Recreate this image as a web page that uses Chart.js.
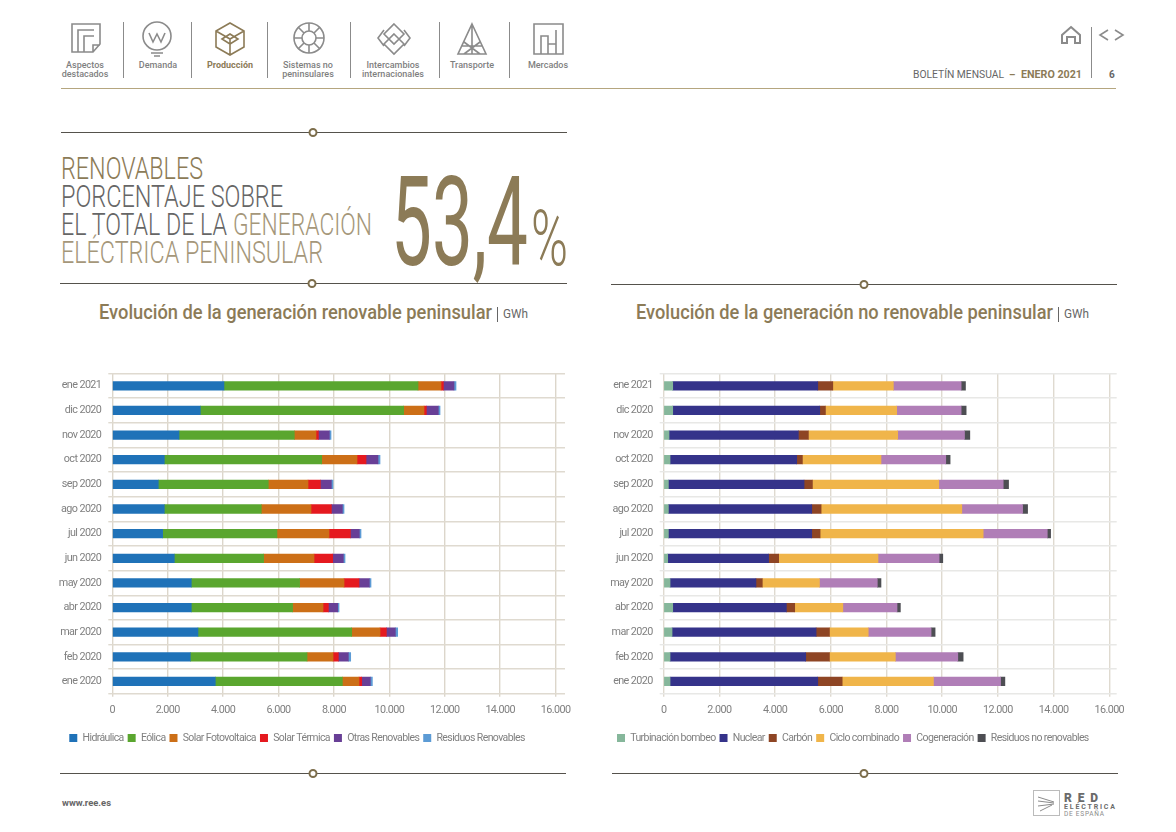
<!DOCTYPE html>
<html>
<head>
<meta charset="utf-8">
<title>Boletín mensual - enero 2021</title>
<script src="https://cdn.jsdelivr.net/npm/chart.js@4/dist/chart.umd.min.js"></script>
<style>
    html, body { margin: 0; padding: 0; background: #fff; }
    body { width: 1176px; height: 832px; position: relative; overflow: hidden; }
    #page { position: absolute; left: 0; top: 0; }
    .box { position: absolute; }
    text { font-family: 'Roboto', sans-serif; }
    .nav { font-size: 9px; font-weight: 500; fill: #7f7f7f; text-anchor: middle; }
    .ico { fill: none; stroke: #8b8b8b; stroke-width: 1.6; }
    .big { font-size: 31px; font-weight: 300; }
    .tit { font-size: 21px; font-weight: 500; fill: #8c7b57; }
    .uni { font-size: 12px; font-weight: 400; fill: #666; }
</style>
</head>
<body>

<svg id="page" width="1176" height="832" viewBox="0 0 1176 832">
    <!-- top navigation -->
    <g class="ico">
        <path d="M72 52V24H100V44L93 52ZM78 52V30H94M84 52V36H94M93 52V45H100"/>
        <circle cx="157" cy="36" r="14"/><path d="M149 33L153 42L157 34L161 42L165 33M151 53H163M154 56H160"/>
        <path d="M230 23L244 31V47L230 55L216 47V31ZM216 31L230 39L244 31M230 39V55M222 39L230 34L238 39L230 44Z" style="stroke:#8c7b57"/>
        <circle cx="309" cy="38" r="15"/><circle cx="309" cy="38" r="7"/><path d="M309 23V31M309 45V53M294 38H302M316 38H324M298 27L304 33M314 43L320 49M320 27L314 33M304 43L298 49"/>
        <path d="M394 24L404 34L394 44L384 34ZM394 34L404 44L394 54L384 44ZM384 30L378 38L384 46M404 30L410 38L404 46"/>
        <path d="M472 24L486 54H458ZM472 24V54M464 42L480 54M480 42L464 54M462 46H482"/>
        <path d="M534 24H563V54H534ZM541 54V36H548V54M548 44H556M556 54V30"/>
        <path d="M1071 27L1080 35V43H1075V37H1067V43H1062V35Z" style="stroke-width:2"/>
        <path d="M1108 30L1100 35L1108 40M1115 30L1123 35L1115 40"/>
    </g>
    <g stroke="#8b8b8b" stroke-width="1">
        <path d="M123.5 22V78M191.5 22V78M267.5 22V78M350.5 22V78M439.5 22V78M509.5 22V78M1091.5 27V78"/>
    </g>
    <text class="nav" x="85" y="68">Aspectos</text><text class="nav" x="85" y="77">destacados</text>
    <text class="nav" x="158" y="68">Demanda</text>
    <text class="nav" x="230" y="68" style="fill:#8c7b57;font-weight:700">Producción</text>
    <text class="nav" x="308" y="68">Sistemas no</text><text class="nav" x="308" y="77">peninsulares</text>
    <text class="nav" x="393" y="68">Intercambios</text><text class="nav" x="393" y="77">internacionales</text>
    <text class="nav" x="472" y="68">Transporte</text>
    <text class="nav" x="548" y="68">Mercados</text>
    <text x="913" y="78" font-size="10" fill="#666" textLength="91" lengthAdjust="spacingAndGlyphs">BOLETÍN MENSUAL</text>
    <text x="1009" y="78" font-size="10" fill="#8c7b57" font-weight="700">–</text>
    <text x="1021" y="78" font-size="10" fill="#8c7b57" font-weight="700" textLength="61" lengthAdjust="spacingAndGlyphs">ENERO 2021</text>
    <text x="1109" y="78" font-size="10" fill="#666" font-weight="700">6</text>
    <path d="M61 88.5H1116" stroke="#b5a67f" stroke-width="1"/>

    <!-- rules with the little ring -->
    <g stroke="#55524c" stroke-width="1" fill="#fff">
        <path d="M61 132.5H567M60 283.5H567M611 284.5H1117M60 773.5H566M612 773.5H1118"/>
    </g>
    <g stroke="#7d6e4c" stroke-width="2" fill="#fff">
        <circle cx="313" cy="132.5" r="3.5"/><circle cx="312" cy="283.5" r="3.5"/><circle cx="864" cy="284.5" r="3.5"/><circle cx="313" cy="773.5" r="3.5"/><circle cx="864" cy="773.5" r="3.5"/>
    </g>

    <!-- headline -->
    <text class="big" x="61" y="179" fill="#8c7b57" textLength="142" lengthAdjust="spacingAndGlyphs">RENOVABLES</text>
    <text class="big" x="61" y="207" fill="#666" textLength="222" lengthAdjust="spacingAndGlyphs">PORCENTAJE SOBRE</text>
    <text class="big" x="61" y="235" fill="#666" textLength="166" lengthAdjust="spacingAndGlyphs">EL TOTAL DE LA</text>
    <text class="big" x="233" y="235" fill="#a5977a" textLength="139" lengthAdjust="spacingAndGlyphs">GENERACIÓN</text>
    <text class="big" x="61" y="263" fill="#a5977a" textLength="262" lengthAdjust="spacingAndGlyphs">ELÉCTRICA PENINSULAR</text>
    <text x="391" y="265" font-size="125" font-weight="400" fill="#8c7b57" textLength="137" lengthAdjust="spacingAndGlyphs">53,4</text>
    <text x="531" y="265" font-size="78" font-weight="300" fill="#8c7b57" textLength="37" lengthAdjust="spacingAndGlyphs">%</text>

    <!-- chart titles -->
    <text class="tit" x="99" y="319" textLength="393" lengthAdjust="spacingAndGlyphs">Evolución de la generación renovable peninsular</text>
    <path d="M497.5 307V322M1058.5 307V322" stroke="#666" stroke-width="1"/>
    <text class="uni" x="503" y="318" textLength="25" lengthAdjust="spacingAndGlyphs">GWh</text>
    <text class="tit" x="636" y="319" textLength="417" lengthAdjust="spacingAndGlyphs">Evolución de la generación no renovable peninsular</text>
    <text class="uni" x="1064" y="318" textLength="25" lengthAdjust="spacingAndGlyphs">GWh</text>

    <!-- footer -->
    <text x="62" y="806" font-size="9" font-weight="700" fill="#666" textLength="49" lengthAdjust="spacingAndGlyphs">www.ree.es</text>
    <rect x="1033.5" y="790.5" width="26" height="25" fill="none" stroke="#bbb"/>
    <path d="M1038 797L1054 802M1038 801L1054 803M1038 806L1054 804M1040 811L1052 805" stroke="#8b8b8b" fill="none"/>
    <text x="1064" y="802" font-size="12" font-weight="900" fill="#6b6b6b" textLength="34" lengthAdjust="spacing">RED</text>
    <text x="1064" y="809" font-size="7" font-weight="700" fill="#6b6b6b" textLength="51" lengthAdjust="spacing">ELÉCTRICA</text>
    <text x="1064" y="816" font-size="6.5" fill="#8b8b8b" textLength="40" lengthAdjust="spacing">DE ESPAÑA</text>
</svg>

<div class="box" style="left:29px;top:360px;width:556px;height:393.3px"><canvas id="chartRenovable"></canvas></div>
<div class="box" style="left:589px;top:360px;width:561px;height:393.3px"><canvas id="chartNoRenovable"></canvas></div>

<script>
// Data, GWh, top bar first
const months = ['ene 2021', 'dic 2020', 'nov 2020', 'oct 2020', 'sep 2020', 'ago 2020', 'jul 2020', 'jun 2020', 'may 2020', 'abr 2020', 'mar 2020', 'feb 2020', 'ene 2020'];
const xTickValues = [0, 2000, 4000, 6000, 8000, 10000, 12000, 14000, 16000];
const xTickLabels = ['0', '2.000', '4.000', '6.000', '8.000', '10.000', '12.000', '14.000', '16.000'];

const hidraulica = [4030, 3176, 2406, 1877, 1660, 1877, 1817, 2238, 2851, 2851, 3092, 2815, 3717];
const eolica = [7005, 7341, 4163, 5681, 3970, 3501, 4126, 3224, 3910, 3657, 5549, 4214, 4587];
const fotovoltaica = [830, 734, 784, 1275, 1435, 1795, 1880, 1819, 1603, 1098, 1022, 938, 601];
const termica = [85, 84, 85, 325, 445, 734, 770, 674, 541, 193, 229, 192, 97];
const otrasRenovables = [384, 433, 397, 433, 397, 397, 324, 385, 373, 336, 325, 361, 312];
const residuosRenovables = [72, 61, 60, 72, 60, 60, 60, 60, 60, 49, 84, 85, 73];

const bombeo = [324, 324, 192, 228, 168, 168, 168, 144, 228, 324, 300, 228, 228];
const nuclear = [5208, 5280, 4644, 4548, 4872, 5148, 5148, 3624, 3084, 4080, 5172, 4872, 5304];
const carbon = [540, 204, 360, 204, 300, 336, 300, 360, 228, 300, 480, 852, 876];
const cicloCombinado = [2174, 2558, 3206, 2822, 4537, 5052, 5855, 3566, 2052, 1728, 1392, 2366, 3277];
const cogeneracion = [2434, 2314, 2398, 2326, 2314, 2182, 2302, 2195, 2078, 1946, 2257, 2242, 2410];
const residuosNoRenovables = [156, 180, 192, 156, 192, 180, 120, 132, 132, 120, 144, 192, 156];

const labelColor = '#808080';
const fontFamily = "'Roboto', sans-serif";

// no narrow font here, so squeeze the canvas text a bit
const tightText = {
    id: 'tightText',
    beforeUpdate: function (chart) { chart.ctx.letterSpacing = '-0.6px'; },
    beforeDraw: function (chart) { chart.ctx.letterSpacing = '-0.6px'; }
};

function makeChart(id, datasets, opt) {
    return new Chart(document.getElementById(id), {
        type: 'bar',
        plugins: [tightText],
        data: {
            labels: months,
            datasets: datasets.map(function (d) {
                return { label: d[0], data: d[1], backgroundColor: d[2], barThickness: 8.6 };
            })
        },
        options: {
            responsive: true,
            maintainAspectRatio: false,
            animation: false,
            indexAxis: 'y',
            layout: { padding: { left: 0, right: opt.padRight, top: 12.5, bottom: 0 } },
            scales: {
                x: {
                    stacked: true,
                    bounds: 'data',
                    min: 0,
                    max: opt.xMax,
                    border: { display: false },
                    grid: { color: opt.vGrid, lineWidth: 1.4, tickLength: 3 },
                    // axis runs a bit past 16.000, stepSize would stretch the ticks to fit it
                    afterBuildTicks: function (scale) {
                        scale.ticks = xTickValues.map(function (v) { return { value: v }; });
                    },
                    ticks: {
                        maxRotation: 0,
                        autoSkip: false,
                        color: labelColor,
                        padding: 7.5,
                        font: { family: fontFamily, size: 10.8 },
                        callback: function (value, i) { return xTickLabels[i]; }
                    },
                    afterFit: function (scale) { scale.height = 35; }
                },
                y: {
                    stacked: true,
                    border: { display: false },
                    grid: { color: opt.hGrid, lineWidth: 1.4, tickLength: 4 },
                    ticks: {
                        autoSkip: false,
                        color: labelColor,
                        padding: 7,
                        font: { family: fontFamily, size: 10.8 }
                    },
                    afterFit: function (scale) { scale.width = opt.axisWidth; }
                }
            },
            plugins: {
                tooltip: { enabled: false },
                legend: {
                    position: 'bottom',
                    align: 'center',
                    labels: {
                        boxWidth: 8,
                        boxHeight: 8,
                        padding: 4,
                        color: labelColor,
                        font: { family: fontFamily, size: 10.5 }
                    }
                }
            }
        }
    });
}

var chartRenovable = makeChart('chartRenovable', [
    ['Hidráulica', hidraulica, '#1f72b8'],
    ['Eólica', eolica, '#5aa62f'],
    ['Solar Fotovoltaica', fotovoltaica, '#cc6f17'],
    ['Solar Térmica', termica, '#e5191f'],
    ['Otras Renovables', otrasRenovables, '#683f96'],
    ['Residuos Renovables', residuosRenovables, '#5c9bd5']
], { padRight: 20, axisWidth: 83.3, xMax: 16340, vGrid: '#dcd6cb', hGrid: '#dfdad0' });

var chartNoRenovable = makeChart('chartNoRenovable', [
    ['Turbinación bombeo', bombeo, '#86b79b'],
    ['Nuclear', nuclear, '#35338a'],
    ['Carbón', carbon, '#8e4524'],
    ['Ciclo combinado', cicloCombinado, '#f0b54a'],
    ['Cogeneración', cogeneracion, '#b07eb7'],
    ['Residuos no renovables', residuosNoRenovables, '#4d4e53']
], { padRight: 33.3, axisWidth: 74.7, xMax: 16266, vGrid: '#dfdad0', hGrid: '#e8e8e6' });
</script>
</body>
</html>
